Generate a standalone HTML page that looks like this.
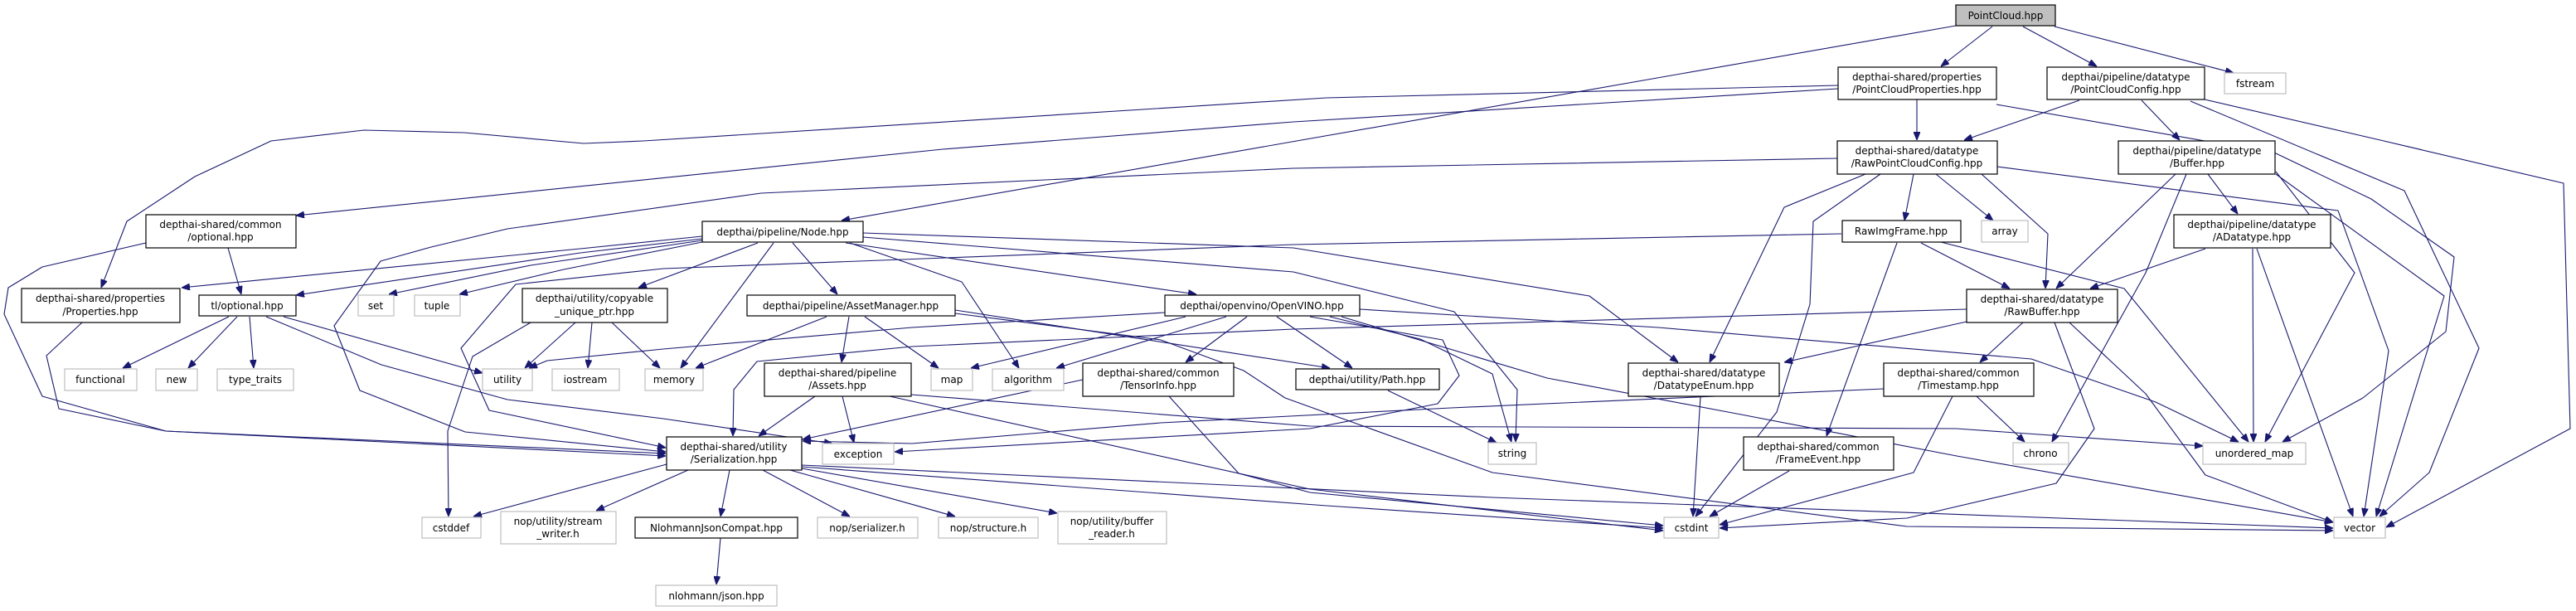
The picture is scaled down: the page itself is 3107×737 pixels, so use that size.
<!DOCTYPE html>
<html><head><meta charset="utf-8"><style>
html,body{margin:0;padding:0;background:#fff;}
svg{display:block;}
text{font-family:"DejaVu Sans","Liberation Sans",sans-serif;font-size:12px;fill:#000;text-anchor:middle;}
.n{fill:#fff;stroke:#000;stroke-width:1.2;}
.g{fill:#fff;stroke:#bfbfbf;stroke-width:1.2;}
.e{fill:none;stroke:#191970;stroke-width:1.1;stroke-linejoin:round;marker-end:url(#a);}
</style></head><body>
<svg width="3107" height="737" viewBox="0 0 3107 737" xmlns="http://www.w3.org/2000/svg">
<defs><marker id="a" markerWidth="10" markerHeight="8" refX="10" refY="4" orient="auto" markerUnits="userSpaceOnUse"><path d="M0,0 L10,4 L0,8 z" fill="#191970" stroke="#191970"/></marker></defs>
<g>
<path class="e" d="M2403,32 L2341,80"/>
<path class="e" d="M2440,32 L2529,80"/>
<path class="e" d="M2478,32 L2694,88"/>
<path class="e" d="M2359,31 L1015,266"/>
<path class="e" d="M2312,120 L2312,169"/>
<path class="e" d="M2217,107 L1560,147 L1137,180 L357,260"/>
<path class="e" d="M2217,103 L1600,118 L776,170 L704,173 L560,160 L439,157 L327,170 L235,213 L153,267 L122,347"/>
<path class="e" d="M2408,126 L2745,185 L2860,240 L2960,310 L2950,400 L2850,480 L2753,533"/>
<path class="e" d="M2216,191 L1560,203 L918,233 L612,276 L520,298 L459,315 L403,393 L434,471 L561,521 L803,545"/>
<path class="e" d="M176,293 L51,322 L10,347 L5,379 L51,478 L200,520 L803,550"/>
<path class="e" d="M99,389 L56,429 L71,493 L200,520 L803,547"/>
<path class="e" d="M275,299 L291,355"/>
<path class="e" d="M914,293 L770,347"/>
<path class="e" d="M933,293 L821,444"/>
<path class="e" d="M956,293 L1010,355"/>
<path class="e" d="M1020,293 L1443,355"/>
<path class="e" d="M1025,293 L1160,340 L1229,444"/>
<path class="e" d="M1041,281 L1560,299 L1917,357 L2024,437"/>
<path class="e" d="M1041,286 L1560,328 L1754,376 L1830,470 L1828,533"/>
<path class="e" d="M847,285 L700,300 L219,347"/>
<path class="e" d="M847,288 L700,305 L357,356"/>
<path class="e" d="M847,290 L640,320 L469,355"/>
<path class="e" d="M847,292 L680,325 L554,355"/>
<path class="e" d="M1430,382 L1171,444"/>
<path class="e" d="M1479,382 L1274,444"/>
<path class="e" d="M1504,382 L1430,437"/>
<path class="e" d="M1540,382 L1631,444"/>
<path class="e" d="M1405,377 L1100,395 L800,421 L660,435 L638,444"/>
<path class="e" d="M1640,373 L2000,395 L2450,433 L2600,485 L2700,533"/>
<path class="e" d="M1580,382 L1740,410 L1760,453 L1734,487 L1580,517 L1079,545"/>
<path class="e" d="M1604,382 L1713,409 L1800,451 L1823,533"/>
<path class="e" d="M1618,382 L1866,456 L2100,500 L2360,550 L2814,630"/>
<path class="e" d="M1152,374 L1604,444"/>
<path class="e" d="M1152,378 L1400,410 L1500,447 L1550,480 L1800,570 L2300,635 L2814,640"/>
<path class="e" d="M997,382 L839,444"/>
<path class="e" d="M1024,382 L1015,437"/>
<path class="e" d="M1043,382 L1132,444"/>
<path class="e" d="M694,389 L633,444"/>
<path class="e" d="M714,389 L709,444"/>
<path class="e" d="M738,389 L796,444"/>
<path class="e" d="M640,389 L570,430 L540,520 L541,623"/>
<path class="e" d="M276,382 L148,444"/>
<path class="e" d="M286,382 L227,444"/>
<path class="e" d="M301,382 L306,444"/>
<path class="e" d="M342,382 L582,450"/>
<path class="e" d="M321,382 L460,440 L612,482 L800,505 L1004,535"/>
<path class="e" d="M983,478 L915,526"/>
<path class="e" d="M1016,478 L1030,534"/>
<path class="e" d="M1073,478 L1580,590 L2006,640"/>
<path class="e" d="M1099,476 L1580,514 L2360,517 L2657,538"/>
<path class="e" d="M1306,458 L968,530"/>
<path class="e" d="M1410,478 L1494,571 L1580,594 L2006,634"/>
<path class="e" d="M2372,373 L1560,397 L1100,418 L913,436 L885,470 L884,526"/>
<path class="e" d="M2272,469 L1750,492 L1400,510 L1100,535 L968,532"/>
<path class="e" d="M2221,282 L1560,295 L800,324 L622,343 L556,420 L590,495 L803,540"/>
<path class="e" d="M804,560 L571,623"/>
<path class="e" d="M830,567 L719,616"/>
<path class="e" d="M880,567 L869,623"/>
<path class="e" d="M920,567 L1025,623"/>
<path class="e" d="M953,567 L1152,623"/>
<path class="e" d="M967,565 L1275,619"/>
<path class="e" d="M967,563 L1600,610 L2006,637"/>
<path class="e" d="M967,561 L1800,600 L2814,637"/>
<path class="e" d="M869,649 L864,705"/>
<path class="e" d="M2308,210 L2297,266"/>
<path class="e" d="M2335,210 L2404,266"/>
<path class="e" d="M2250,210 L2152,250 L2062,437"/>
<path class="e" d="M2268,210 L2187,267 L2183,367 L2143,497 L2045,623"/>
<path class="e" d="M2390,210 L2470,282 L2467,348"/>
<path class="e" d="M2409,201 L2820,254 L2881,423 L2851,623"/>
<path class="e" d="M2508,121 L2369,169"/>
<path class="e" d="M2583,121 L2629,169"/>
<path class="e" d="M2659,120 L2871,169 L3092,221 L3100,517 L2878,636"/>
<path class="e" d="M2642,122 L2900,230 L2990,420 L2930,570 L2870,623"/>
<path class="e" d="M2624,210 L2480,348"/>
<path class="e" d="M2637,210 L2588,329 L2475,533"/>
<path class="e" d="M2663,210 L2699,258"/>
<path class="e" d="M2745,207 L2840,329 L2732,533"/>
<path class="e" d="M2745,210 L2948,357 L2866,623"/>
<path class="e" d="M2660,300 L2521,348"/>
<path class="e" d="M2717,300 L2718,533"/>
<path class="e" d="M2722,300 L2838,623"/>
<path class="e" d="M2317,293 L2424,348"/>
<path class="e" d="M2341,292 L2562,348 L2712,533"/>
<path class="e" d="M2288,293 L2203,526"/>
<path class="e" d="M2372,388 L2152,437"/>
<path class="e" d="M2440,389 L2388,437"/>
<path class="e" d="M2478,389 L2526,517 L2480,583 L2300,625 L2074,637"/>
<path class="e" d="M2496,389 L2588,475 L2660,573 L2814,630"/>
<path class="e" d="M2384,478 L2442,533"/>
<path class="e" d="M2355,478 L2308,570 L2074,633"/>
<path class="e" d="M2158,568 L2062,623"/>
<path class="e" d="M2051,478 L2042,623"/>
<path class="e" d="M1674,471 L1805,534"/>
</g>
<g>
<rect class="n" x="2359" y="6" width="120" height="25" style="fill:#bfbfbf"/><text x="2419" y="23">PointCloud.hpp</text>
<rect class="g" x="2683" y="88" width="74" height="25"/><text x="2720" y="105">fstream</text>
<rect class="n" x="2217" y="81" width="191" height="39"/><text x="2312" y="97">depthai-shared/properties</text><text x="2312" y="112">/PointCloudProperties.hpp</text>
<rect class="n" x="2469" y="81" width="190" height="39"/><text x="2564" y="97">depthai/pipeline/datatype</text><text x="2564" y="112">/PointCloudConfig.hpp</text>
<rect class="n" x="2216" y="170" width="193" height="40"/><text x="2312" y="186">depthai-shared/datatype</text><text x="2312" y="201">/RawPointCloudConfig.hpp</text>
<rect class="n" x="2555" y="170" width="189" height="40"/><text x="2650" y="186">depthai/pipeline/datatype</text><text x="2650" y="201">/Buffer.hpp</text>
<rect class="n" x="176" y="259" width="181" height="40"/><text x="266" y="275">depthai-shared/common</text><text x="266" y="290">/optional.hpp</text>
<rect class="n" x="847" y="267" width="194" height="25"/><text x="944" y="284">depthai/pipeline/Node.hpp</text>
<rect class="n" x="2222" y="266" width="143" height="26"/><text x="2293" y="283">RawImgFrame.hpp</text>
<rect class="g" x="2390" y="266" width="56" height="26"/><text x="2418" y="283">array</text>
<rect class="n" x="2622" y="259" width="189" height="40"/><text x="2716" y="275">depthai/pipeline/datatype</text><text x="2716" y="290">/ADatatype.hpp</text>
<rect class="n" x="26" y="348" width="191" height="41"/><text x="121" y="364">depthai-shared/properties</text><text x="121" y="380">/Properties.hpp</text>
<rect class="n" x="240" y="356" width="117" height="25"/><text x="298" y="373">tl/optional.hpp</text>
<rect class="g" x="432" y="356" width="43" height="25"/><text x="453" y="373">set</text>
<rect class="g" x="500" y="356" width="55" height="25"/><text x="527" y="373">tuple</text>
<rect class="n" x="630" y="348" width="175" height="41"/><text x="717" y="364">depthai/utility/copyable</text><text x="717" y="380">_unique_ptr.hpp</text>
<rect class="n" x="901" y="356" width="251" height="25"/><text x="1026" y="373">depthai/pipeline/AssetManager.hpp</text>
<rect class="n" x="1405" y="356" width="235" height="25"/><text x="1522" y="373">depthai/openvino/OpenVINO.hpp</text>
<rect class="n" x="2372" y="349" width="182" height="40"/><text x="2463" y="365">depthai-shared/datatype</text><text x="2463" y="380">/RawBuffer.hpp</text>
<rect class="g" x="78" y="445" width="87" height="26"/><text x="121" y="462">functional</text>
<rect class="g" x="188" y="445" width="50" height="26"/><text x="213" y="462">new</text>
<rect class="g" x="262" y="445" width="92" height="26"/><text x="308" y="462">type_traits</text>
<rect class="g" x="582" y="445" width="60" height="26"/><text x="612" y="462">utility</text>
<rect class="g" x="666" y="445" width="81" height="26"/><text x="706" y="462">iostream</text>
<rect class="g" x="778" y="445" width="70" height="26"/><text x="813" y="462">memory</text>
<rect class="g" x="1123" y="445" width="50" height="26"/><text x="1148" y="462">map</text>
<rect class="g" x="1197" y="445" width="86" height="26"/><text x="1240" y="462">algorithm</text>
<rect class="n" x="922" y="438" width="177" height="40"/><text x="1010" y="454">depthai-shared/pipeline</text><text x="1010" y="469">/Assets.hpp</text>
<rect class="n" x="1306" y="438" width="182" height="40"/><text x="1397" y="454">depthai-shared/common</text><text x="1397" y="469">/TensorInfo.hpp</text>
<rect class="n" x="1563" y="445" width="173" height="25"/><text x="1649" y="462">depthai/utility/Path.hpp</text>
<rect class="n" x="1964" y="438" width="182" height="40"/><text x="2055" y="454">depthai-shared/datatype</text><text x="2055" y="469">/DatatypeEnum.hpp</text>
<rect class="n" x="2272" y="438" width="181" height="40"/><text x="2362" y="454">depthai-shared/common</text><text x="2362" y="469">/Timestamp.hpp</text>
<rect class="n" x="804" y="527" width="163" height="40"/><text x="885" y="543">depthai-shared/utility</text><text x="885" y="558">/Serialization.hpp</text>
<rect class="g" x="992" y="535" width="86" height="25"/><text x="1035" y="552">exception</text>
<rect class="g" x="1795" y="534" width="58" height="26"/><text x="1824" y="551">string</text>
<rect class="n" x="2103" y="527" width="181" height="40"/><text x="2193" y="543">depthai-shared/common</text><text x="2193" y="558">/FrameEvent.hpp</text>
<rect class="g" x="2428" y="534" width="67" height="26"/><text x="2461" y="551">chrono</text>
<rect class="g" x="2657" y="534" width="124" height="26"/><text x="2719" y="551">unordered_map</text>
<rect class="g" x="509" y="624" width="71" height="25"/><text x="544" y="641">cstddef</text>
<rect class="g" x="604" y="617" width="139" height="39"/><text x="673" y="633">nop/utility/stream</text><text x="673" y="648">_writer.h</text>
<rect class="n" x="766" y="624" width="196" height="25"/><text x="864" y="641">NlohmannJsonCompat.hpp</text>
<rect class="g" x="986" y="624" width="121" height="25"/><text x="1046" y="641">nop/serializer.h</text>
<rect class="g" x="1132" y="624" width="120" height="25"/><text x="1192" y="641">nop/structure.h</text>
<rect class="g" x="1276" y="617" width="131" height="39"/><text x="1341" y="633">nop/utility/buffer</text><text x="1341" y="648">_reader.h</text>
<rect class="g" x="2007" y="624" width="66" height="25"/><text x="2040" y="641">cstdint</text>
<rect class="g" x="2815" y="624" width="62" height="25"/><text x="2846" y="641">vector</text>
<rect class="g" x="791" y="706" width="146" height="25"/><text x="864" y="723">nlohmann/json.hpp</text>
</g>
</svg>
</body></html>
